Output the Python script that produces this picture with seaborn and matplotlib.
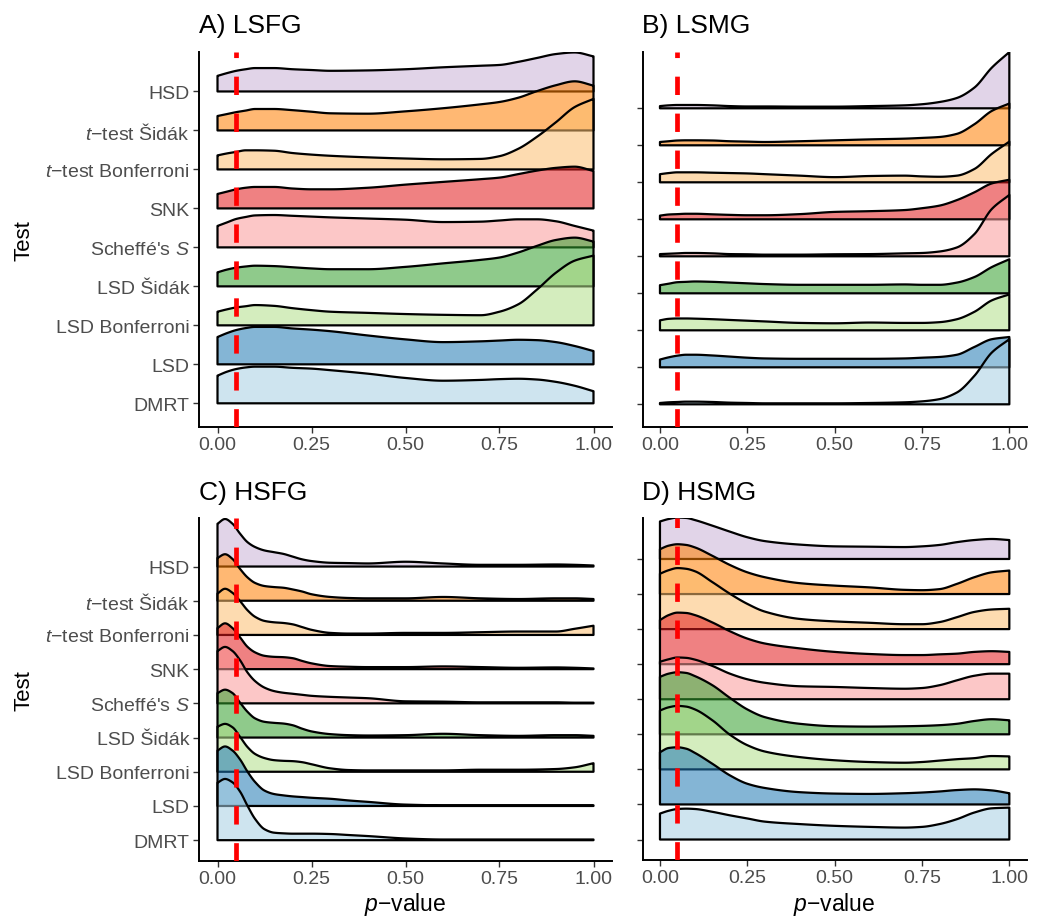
import numpy as np
import matplotlib
matplotlib.use("Agg")
import matplotlib.pyplot as plt
import seaborn as sns

# ---------------- data ----------------
TESTS = ["DMRT", "LSD", "LSD Bonferroni", "LSD Šidák", "Scheffé's S", "SNK",
         "t-test Bonferroni", "t-test Šidák", "HSD"]
TICK_LABELS = ["DMRT", "LSD", "LSD Bonferroni", "LSD Šidák", "Scheffé's $S$", "SNK",
               "$t$\u2212test Bonferroni", "$t$\u2212test Šidák", "HSD"]
X_TICKS = [0.0, 0.25, 0.50, 0.75, 1.0]
X_TICK_LABELS = ["0.00", "0.25", "0.50", "0.75", "1.00"]
ALPHA_LEVEL = 0.05

# p-value grid at which ridge heights were read (panels A, B, D)
P_GRID = [0, .025, .05, .075, .1, .15, .2, .25, .3, .4, .5, .6, .7, .75, .8, .85, .9, .95, 1.0]
# finer grid near zero for panel C
P_GRID_C = [0, .02, .04, .06, .08, .1, .125, .15, .175, .2, .225, .25, .3, .35, .4,
            .5, .6, .7, .8, .9, .95, 1.0]

# A) LSFG  (ridge heights, in units of row spacing)
LSFG_DMRT = [0.71, 0.81, 0.88, 0.92, 0.94, 0.94, 0.91, 0.89, 0.85, 0.76, 0.65, 0.58, 0.60, 0.62, 0.63, 0.61, 0.55, 0.45, 0.31]
LSFG_LSD = [0.70, 0.80, 0.88, 0.93, 0.96, 0.96, 0.92, 0.89, 0.85, 0.74, 0.64, 0.57, 0.59, 0.61, 0.63, 0.62, 0.57, 0.47, 0.34]
LSFG_LSDBON = [0.35, 0.41, 0.46, 0.49, 0.52, 0.50, 0.44, 0.39, 0.35, 0.32, 0.29, 0.27, 0.26, 0.35, 0.54, 0.92, 1.35, 1.66, 1.79]
LSFG_LSDSID = [0.36, 0.43, 0.48, 0.51, 0.53, 0.52, 0.49, 0.46, 0.44, 0.44, 0.50, 0.59, 0.68, 0.74, 0.87, 1.04, 1.19, 1.25, 1.15]
LSFG_SCHEFFE = [0.55, 0.64, 0.73, 0.78, 0.82, 0.83, 0.81, 0.79, 0.77, 0.74, 0.71, 0.65, 0.66, 0.69, 0.72, 0.72, 0.67, 0.55, 0.43]
LSFG_SNK = [0.37, 0.43, 0.49, 0.53, 0.55, 0.55, 0.51, 0.49, 0.49, 0.53, 0.61, 0.68, 0.75, 0.79, 0.88, 0.97, 1.04, 1.07, 0.96]
LSFG_TBON = [0.36, 0.41, 0.45, 0.49, 0.49, 0.48, 0.42, 0.38, 0.35, 0.31, 0.28, 0.26, 0.27, 0.34, 0.53, 0.84, 1.21, 1.60, 1.81]
LSFG_TSID = [0.37, 0.42, 0.47, 0.51, 0.55, 0.55, 0.52, 0.48, 0.44, 0.43, 0.49, 0.57, 0.67, 0.73, 0.84, 1.01, 1.16, 1.26, 1.15]
LSFG_HSD = [0.40, 0.47, 0.53, 0.57, 0.60, 0.60, 0.57, 0.55, 0.53, 0.54, 0.57, 0.62, 0.66, 0.68, 0.76, 0.86, 0.96, 1.00, 0.90]

# B) LSMG
LSMG_DMRT = [0.036, 0.054, 0.063, 0.072, 0.072, 0.063, 0.045, 0.036, 0.027, 0.027, 0.027, 0.036, 0.054, 0.08, 0.14, 0.32, 0.77, 1.40, 1.76]
LSMG_LSD = [0.21, 0.27, 0.315, 0.34, 0.34, 0.32, 0.29, 0.26, 0.24, 0.23, 0.23, 0.23, 0.24, 0.26, 0.28, 0.34, 0.55, 0.76, 0.82]
LSMG_LSDBON = [0.27, 0.31, 0.32, 0.32, 0.315, 0.30, 0.28, 0.26, 0.24, 0.20, 0.19, 0.21, 0.20, 0.20, 0.22, 0.30, 0.50, 0.81, 0.97]
LSMG_LSDSID = [0.22, 0.26, 0.30, 0.31, 0.32, 0.31, 0.29, 0.27, 0.25, 0.23, 0.23, 0.23, 0.24, 0.23, 0.23, 0.29, 0.44, 0.71, 0.92]
LSMG_SCHEFFE = [0.06, 0.07, 0.08, 0.09, 0.09, 0.08, 0.06, 0.055, 0.045, 0.045, 0.055, 0.06, 0.08, 0.09, 0.13, 0.24, 0.60, 1.28, 1.66]
LSMG_SNK = [0.10, 0.13, 0.14, 0.15, 0.15, 0.135, 0.12, 0.11, 0.11, 0.14, 0.20, 0.22, 0.25, 0.30, 0.37, 0.52, 0.73, 0.97, 1.07]
LSMG_TBON = [0.22, 0.25, 0.27, 0.27, 0.27, 0.26, 0.25, 0.24, 0.22, 0.18, 0.14, 0.17, 0.18, 0.16, 0.15, 0.18, 0.36, 0.77, 1.10]
LSMG_TSID = [0.09, 0.11, 0.13, 0.135, 0.135, 0.13, 0.11, 0.10, 0.09, 0.11, 0.135, 0.16, 0.18, 0.20, 0.225, 0.31, 0.57, 0.93, 1.13]
LSMG_HSD = [0.06, 0.08, 0.09, 0.09, 0.09, 0.08, 0.06, 0.05, 0.05, 0.045, 0.045, 0.06, 0.08, 0.11, 0.17, 0.28, 0.56, 1.10, 1.52]

# C) HSFG
HSFG_DMRT = [1.68, 1.79, 1.69, 1.42, 1.00, 0.62, 0.32, 0.22, 0.20, 0.19, 0.19, 0.19, 0.18, 0.15, 0.12, 0.05, 0.02, 0.02, 0.02, 0.02, 0.02, 0.02]
HSFG_LSD = [1.62, 1.74, 1.62, 1.36, 1.00, 0.70, 0.45, 0.35, 0.31, 0.28, 0.26, 0.24, 0.21, 0.16, 0.12, 0.04, 0.02, 0.02, 0.02, 0.02, 0.02, 0.02]
HSFG_LSDBON = [1.32, 1.40, 1.30, 1.02, 0.72, 0.52, 0.40, 0.34, 0.32, 0.31, 0.28, 0.22, 0.10, 0.05, 0.04, 0.04, 0.04, 0.06, 0.06, 0.08, 0.13, 0.25]
HSFG_LSDSID = [1.30, 1.40, 1.30, 1.02, 0.75, 0.56, 0.46, 0.43, 0.41, 0.36, 0.26, 0.18, 0.10, 0.07, 0.06, 0.07, 0.11, 0.07, 0.05, 0.07, 0.07, 0.05]
HSFG_SCHEFFE = [1.53, 1.65, 1.53, 1.26, 0.90, 0.65, 0.46, 0.36, 0.31, 0.28, 0.25, 0.22, 0.19, 0.17, 0.15, 0.06, 0.05, 0.03, 0.03, 0.03, 0.02, 0.02]
HSFG_SNK = [1.20, 1.34, 1.20, 0.93, 0.65, 0.49, 0.39, 0.36, 0.35, 0.32, 0.24, 0.17, 0.09, 0.07, 0.06, 0.06, 0.08, 0.06, 0.04, 0.05, 0.04, 0.02]
HSFG_TBON = [1.21, 1.35, 1.23, 0.99, 0.72, 0.53, 0.41, 0.37, 0.35, 0.31, 0.23, 0.15, 0.06, 0.04, 0.04, 0.06, 0.06, 0.08, 0.10, 0.10, 0.18, 0.27]
HSFG_TSID = [1.25, 1.36, 1.22, 0.93, 0.68, 0.52, 0.43, 0.40, 0.38, 0.33, 0.27, 0.19, 0.11, 0.08, 0.07, 0.07, 0.11, 0.07, 0.05, 0.07, 0.07, 0.05]
HSFG_HSD = [1.25, 1.39, 1.25, 0.96, 0.71, 0.57, 0.47, 0.42, 0.37, 0.29, 0.21, 0.16, 0.11, 0.10, 0.09, 0.14, 0.09, 0.05, 0.05, 0.06, 0.05, 0.03]

# D) HSMG
HSMG_DMRT = [0.74, 0.82, 0.87, 0.88, 0.87, 0.79, 0.69, 0.60, 0.51, 0.44, 0.39, 0.36, 0.34, 0.36, 0.44, 0.58, 0.77, 0.89, 0.91]
HSMG_LSD = [1.49, 1.61, 1.63, 1.59, 1.47, 1.16, 0.83, 0.59, 0.47, 0.35, 0.31, 0.30, 0.32, 0.34, 0.37, 0.41, 0.43, 0.40, 0.32]
HSMG_LSDBON = [1.68, 1.77, 1.81, 1.79, 1.71, 1.40, 0.99, 0.69, 0.51, 0.35, 0.26, 0.21, 0.19, 0.21, 0.25, 0.29, 0.32, 0.38, 0.37]
HSMG_LSDSID = [1.64, 1.73, 1.77, 1.75, 1.66, 1.40, 1.04, 0.71, 0.49, 0.30, 0.23, 0.22, 0.23, 0.24, 0.26, 0.30, 0.38, 0.43, 0.40]
HSMG_SCHEFFE = [1.07, 1.14, 1.19, 1.18, 1.13, 0.95, 0.73, 0.57, 0.47, 0.37, 0.35, 0.32, 0.30, 0.32, 0.40, 0.54, 0.67, 0.73, 0.73]
HSMG_SNK = [1.26, 1.40, 1.47, 1.46, 1.40, 1.19, 0.94, 0.73, 0.59, 0.45, 0.35, 0.29, 0.26, 0.26, 0.28, 0.30, 0.35, 0.37, 0.35]
HSMG_TBON = [1.58, 1.68, 1.74, 1.72, 1.65, 1.34, 1.01, 0.72, 0.50, 0.29, 0.22, 0.18, 0.14, 0.14, 0.20, 0.34, 0.49, 0.56, 0.58]
HSMG_TSID = [1.28, 1.38, 1.42, 1.40, 1.33, 1.09, 0.83, 0.62, 0.48, 0.31, 0.24, 0.19, 0.12, 0.11, 0.14, 0.29, 0.48, 0.62, 0.67]
HSMG_HSD = [1.07, 1.14, 1.18, 1.17, 1.11, 0.95, 0.78, 0.62, 0.51, 0.41, 0.36, 0.35, 0.34, 0.36, 0.40, 0.48, 0.54, 0.57, 0.54]

PANEL_TITLES = ["A) LSFG", "B) LSMG", "C) HSFG", "D) HSMG"]

# ---------------- style ----------------
sns.set_theme(style="ticks")
plt.rcParams["font.family"] = ["Liberation Sans", "DejaVu Sans"]
plt.rcParams["mathtext.fontset"] = "custom"
plt.rcParams["mathtext.rm"] = "Liberation Sans"
plt.rcParams["mathtext.it"] = "Liberation Sans:italic"
plt.rcParams["lines.scale_dashes"] = False

COLORS = sns.color_palette("Paired", 9)
FILL_ALPHA = 0.55


def smooth(x, y, n=400):
    """Monotone cubic (Fritsch-Carlson) curve through the read points, for rendering."""
    x = np.asarray(x, float)
    y = np.asarray(y, float)
    h = np.diff(x)
    delta = np.diff(y) / h
    d = np.zeros_like(y)
    d[0], d[-1] = delta[0], delta[-1]
    for k in range(1, len(x) - 1):
        if delta[k - 1] * delta[k] <= 0:
            d[k] = 0.0
        else:
            w1 = 2 * h[k] + h[k - 1]
            w2 = h[k] + 2 * h[k - 1]
            d[k] = (w1 + w2) / (w1 / delta[k - 1] + w2 / delta[k])
    xn = np.linspace(x[0], x[-1], n)
    idx = np.clip(np.searchsorted(x, xn) - 1, 0, len(x) - 2)
    t = (xn - x[idx]) / h[idx]
    h00 = 2 * t**3 - 3 * t**2 + 1
    h10 = t**3 - 2 * t**2 + t
    h01 = -2 * t**3 + 3 * t**2
    h11 = t**3 - t**2
    yn = h00 * y[idx] + h10 * h[idx] * d[idx] + h01 * y[idx + 1] + h11 * h[idx] * d[idx + 1]
    return xn, np.maximum(yn, 0)


W, H = 1047, 920
fig = plt.figure(figsize=(W / 100, H / 100), dpi=100)


def add_ax(l, r, t, b):
    return fig.add_axes([l / W, 1 - b / H, (r - l) / W, (b - t) / H])


panels = [
    (PANEL_TITLES[0], P_GRID, [LSFG_DMRT, LSFG_LSD, LSFG_LSDBON, LSFG_LSDSID, LSFG_SCHEFFE, LSFG_SNK, LSFG_TBON, LSFG_TSID, LSFG_HSD],
     (0.40, 10.02), (198.7, 612.3, 52.7, 427.7), True, False),
    (PANEL_TITLES[1], P_GRID, [LSMG_DMRT, LSMG_LSD, LSMG_LSDBON, LSMG_LSDSID, LSMG_SCHEFFE, LSMG_SNK, LSMG_TBON, LSMG_TSID, LSMG_HSD],
     (0.395, 10.53), (642.5, 1026.8, 52.7, 427.7), False, False),
    (PANEL_TITLES[2], P_GRID_C, [HSFG_DMRT, HSFG_LSD, HSFG_LSDBON, HSFG_LSDSID, HSFG_SCHEFFE, HSFG_SNK, HSFG_TBON, HSFG_TSID, HSFG_HSD],
     (0.40, 10.41), (198.7, 612.3, 519.3, 861.7), True, True),
    (PANEL_TITLES[3], P_GRID, [HSMG_DMRT, HSMG_LSD, HSMG_LSDBON, HSMG_LSDSID, HSMG_SCHEFFE, HSMG_SNK, HSMG_TBON, HSMG_TSID, HSMG_HSD],
     (0.41, 10.16), (642.5, 1026.8, 519.3, 861.2), False, True),
]

for title, grid, series, ylim, rect, ylabels, xlabel in panels:
    ax = add_ax(*rect)
    positions = np.arange(1, len(TESTS) + 1)
    # draw from the top row down so lower ridges overlay the upper ones
    for i in range(len(TESTS) - 1, -1, -1):
        base = positions[i]
        xs, hs = smooth(grid, series[i])
        px = np.concatenate([[xs[0]], xs, [xs[-1]]])
        py = np.concatenate([[base], base + hs, [base]])
        r, g, b = COLORS[i]
        ax.fill(px, py, facecolor=(r, g, b, FILL_ALPHA), edgecolor="black",
                linewidth=1.6, joinstyle="round", zorder=2 + (len(TESTS) - i))
    ax.axvline(ALPHA_LEVEL, color="red", linewidth=3.4, linestyle=(0, (13.2, 13.4)),
               zorder=50)
    ax.set_xlim(-0.05, 1.05)
    ax.set_ylim(*ylim)
    ax.set_xticks(X_TICKS)
    ax.set_xticklabels(X_TICK_LABELS)
    ax.set_yticks(positions)
    if ylabels:
        ax.set_yticklabels(TICK_LABELS)
    else:
        ax.set_yticklabels([])
    ax.tick_params(axis="both", length=4, width=1.0, color="#333333",
                   labelsize=14, labelcolor="#4D4D4D", pad=2.5)
    sns.despine(ax=ax)
    for s in ("left", "bottom"):
        ax.spines[s].set_linewidth(1.4)
        ax.spines[s].set_color("black")
    ax.set_facecolor("white")
    l, r_, t, b_ = rect
    fig.text(l / W, 1 - (t - 19.2) / H, title, fontsize=19, ha="left",
             va="baseline", color="black")
    if ylabels:
        fig.text(24 / W, 1 - ((t + b_) / 2) / H, "Test", rotation=90, fontsize=16,
                 ha="center", va="center", color="black")
    if xlabel:
        fig.text(((l + r_) / 2) / W, 1 - 911.5 / H, "$p$\u2212value", fontsize=16.5,
                 ha="center", va="baseline", color="black")

fig.savefig("out.png", dpi=100, facecolor="white")
